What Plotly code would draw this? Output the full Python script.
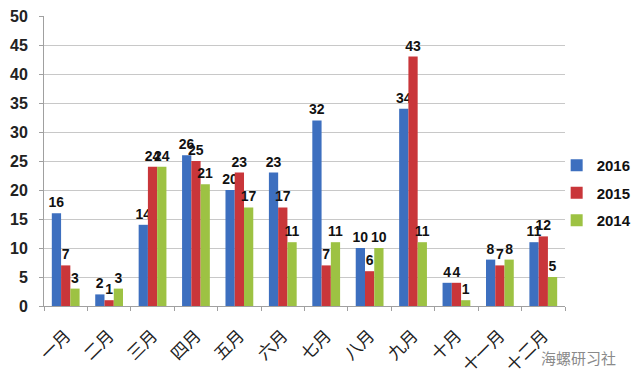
import plotly.graph_objects as go

months = ["一月", "二月", "三月", "四月", "五月", "六月", "七月", "八月", "九月", "十月", "十一月", "十二月"]
v2016 = [16, 2, 14, 26, 20, 23, 32, 10, 34, 4, 8, 11]
v2015 = [7, 1, 24, 25, 23, 17, 7, 6, 43, 4, 7, 12]
v2014 = [3, 3, 24, 21, 17, 11, 11, 10, 11, 1, 8, 5]
series = [("2016", v2016, "#3D6FBF"), ("2015", v2015, "#C9363A"), ("2014", v2014, "#9DC243")]

fig = go.Figure()
for name, vals, col in series:
    fig.add_trace(go.Bar(
        x=months, y=vals, name="<b>" + name + "</b>", legendgroup=name,
        marker=dict(color=col, line=dict(width=0)),
        text=[str(v) for v in vals], textposition="outside",
        textfont=dict(family="Liberation Sans, Arial", size=14, color="#111"),
        texttemplate="<b>%{text}</b>", cliponaxis=False,
        constraintext="none", textangle=0,
    ))

fig.update_layout(
    width=640, height=385,
    margin=dict(l=36, r=83, t=8, b=87, autoexpand=False),
    paper_bgcolor="white", plot_bgcolor="white",
    barmode="group", bargap=0.36, bargroupgap=0,
    font=dict(family="Liberation Sans, Arial", color="#222"),
    legend=dict(x=0.984, y=0.541, xanchor="left", yanchor="top",
                font=dict(size=15, color="#111"), tracegroupgap=5,
                itemwidth=30, bgcolor="rgba(0,0,0,0)"),
    showlegend=True,
)
fig.update_yaxes(range=[0, 50], dtick=5, showgrid=True, gridcolor="#C8C8C8", gridwidth=1,
                 showline=True, linecolor="#A0A0A0", ticks="outside", ticklen=4, tickcolor="#A0A0A0",
                 tickfont=dict(size=16, color="#222", family="Liberation Sans, Arial"),
                 tickprefix="<b>", ticksuffix="</b>", zeroline=False, automargin=False,
                 ticklabeloverflow="allow", ticklabelstandoff=8)
fig.update_xaxes(showline=True, linecolor="#A0A0A0", ticks="outside", ticklen=4, tickcolor="#A0A0A0",
                 tickson="boundaries", tickangle=-45, automargin=False, ticklabelstandoff=12,
                 tickfont=dict(size=17, color="#222", family="Noto Sans CJK SC"))
fig.add_annotation(text="海螺研习社", xref="paper", yref="paper", x=1.102, y=-0.176,
                   xanchor="right", yanchor="middle", showarrow=False,
                   font=dict(size=15, color="#8A8A8A", family="Noto Sans CJK SC"))
fig.write_html("out.html")
